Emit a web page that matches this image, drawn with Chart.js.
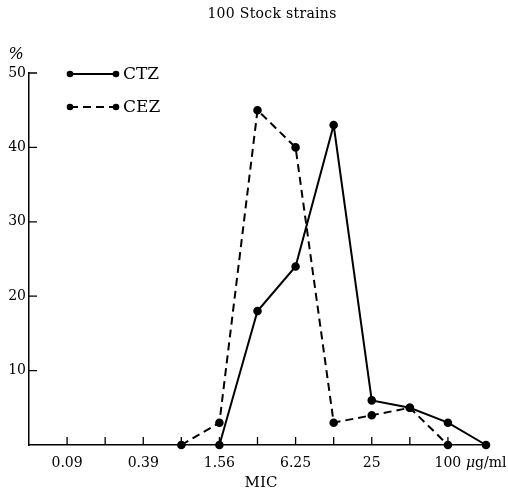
<!DOCTYPE html>
<html>
<head>
<meta charset="utf-8">
<script src="https://cdn.jsdelivr.net/npm/chart.js@4/dist/chart.umd.min.js"></script>
<style>
  html, body { margin: 0; padding: 0; background: #fff; }
  #wrap { width: 508px; height: 491px; }
</style>
</head>
<body>
<div id="wrap"><canvas id="c" width="508" height="491"></canvas></div>
<script>
// MIC steps (ug/ml), one slot per doubling dilution
const micSteps = ['0.09', '0.19', '0.39', '0.78', '1.56', '3.13', '6.25', '12.5', '25', '50', '100', '200'];
const shownTicks = ['0.09', '0.39', '1.56', '6.25', '25', '100'];
const yTicks = [10, 20, 30, 40, 50];

// % of strains at each MIC
const ctzSteps = ['1.56', '3.13', '6.25', '12.5', '25', '50', '100', '200'];
const ctzValues = [0, 18, 24, 43, 6, 5, 3, 0];
const cezSteps = ['0.78', '1.56', '3.13', '6.25', '12.5', '25', '50', '100'];
const cezValues = [0, 3, 45, 40, 3, 4, 5, 0];

const serif = '"DejaVu Serif", "Liberation Serif", serif';

function pts(steps, vals) {
  return steps.map((s, i) => ({ x: micSteps.indexOf(s), y: vals[i] }));
}

const decor = {
  id: 'decor',
  afterDraw(chart) {
    const ctx = chart.ctx;
    const xs = chart.scales.x, ys = chart.scales.y;
    const y0 = ys.getPixelForValue(0);
    ctx.save();
    ctx.strokeStyle = '#000';
    ctx.lineWidth = 1.3;
    // inward tick marks
    ctx.beginPath();
    for (let i = 0; i < micSteps.length - 1; i++) {
      const px = xs.getPixelForValue(i);
      ctx.moveTo(px, y0);
      ctx.lineTo(px, y0 - 8);
    }
    yTicks.forEach(v => {
      const py = ys.getPixelForValue(v);
      ctx.moveTo(xs.left, py);
      ctx.lineTo(xs.left + 8, py);
    });
    ctx.stroke();

    ctx.fillStyle = '#000';
    ctx.textBaseline = 'middle';
    // title
    ctx.font = '14px ' + serif;
    ctx.textAlign = 'center';
    ctx.letterSpacing = '0.3px';
    ctx.fillText('100 Stock strains', 272, 14);
    ctx.letterSpacing = '0px';
    // axis units
    ctx.font = 'italic 16px ' + serif;
    ctx.fillText('%', 16, 55);
    ctx.font = '15px ' + serif;
    ctx.fillText('MIC', 261, 483);
    ctx.textAlign = 'left';
    ctx.font = 'italic 14px ' + serif;
    ctx.fillText('\u03bc', 466, 463);
    ctx.font = '14px ' + serif;
    ctx.fillText('g/ml', 475, 463);

    // legend
    const legend = [
      { label: 'CTZ', y: 74, dash: [] },
      { label: 'CEZ', y: 107, dash: [8, 5] }
    ];
    legend.forEach(l => {
      ctx.setLineDash(l.dash);
      ctx.lineWidth = 2;
      ctx.beginPath();
      ctx.moveTo(70, l.y);
      ctx.lineTo(116, l.y);
      ctx.stroke();
      ctx.setLineDash([]);
      [70, 116].forEach(px => {
        ctx.beginPath();
        ctx.arc(px, l.y, 3.3, 0, Math.PI * 2);
        ctx.fill();
      });
      ctx.font = '17px ' + serif;
      ctx.textAlign = 'left';
      ctx.fillText(l.label, 123, l.y + 1);
    });
    ctx.restore();
  }
};

new Chart(document.getElementById('c'), {
  type: 'line',
  data: {
    datasets: [
      {
        label: 'CTZ',
        data: pts(ctzSteps, ctzValues),
        borderColor: '#000',
        backgroundColor: '#000',
        borderWidth: 2,
        pointRadius: 3.3,
        pointBackgroundColor: '#000',
        tension: 0,
        clip: false
      },
      {
        label: 'CEZ',
        data: pts(cezSteps, cezValues),
        borderColor: '#000',
        backgroundColor: '#000',
        borderWidth: 2,
        borderDash: [8, 5],
        pointRadius: 3.3,
        pointBackgroundColor: '#000',
        tension: 0,
        clip: false
      }
    ]
  },
  options: {
    responsive: false,
    animation: false,
    layout: { padding: { top: 73, right: 22, left: 0, bottom: 0 } },
    plugins: { legend: { display: false }, tooltip: { enabled: false } },
    scales: {
      x: {
        type: 'linear',
        min: -1,
        max: micSteps.length - 1,
        afterFit: s => { s.height = 46; },
        afterBuildTicks: s => { s.ticks = micSteps.map((m, i) => ({ value: i })); },
        grid: { display: false, drawTicks: false },
        border: { color: '#000', width: 1.5 },
        ticks: {
          color: '#000',
          padding: 10,
          maxRotation: 0,
          autoSkip: false,
          font: { family: serif, size: 14 },
          callback: v => shownTicks.includes(micSteps[v]) ? micSteps[v] : ''
        }
      },
      y: {
        min: 0,
        max: 50,
        afterFit: s => { s.width = 29; },
        afterBuildTicks: s => { s.ticks = yTicks.map(v => ({ value: v })); },
        grid: { display: false, drawTicks: false },
        border: { color: '#000', width: 1.5 },
        ticks: {
          color: '#000',
          padding: 3,
          font: { family: serif, size: 14 }
        }
      }
    }
  },
  plugins: [decor]
});
</script>
</body>
</html>
